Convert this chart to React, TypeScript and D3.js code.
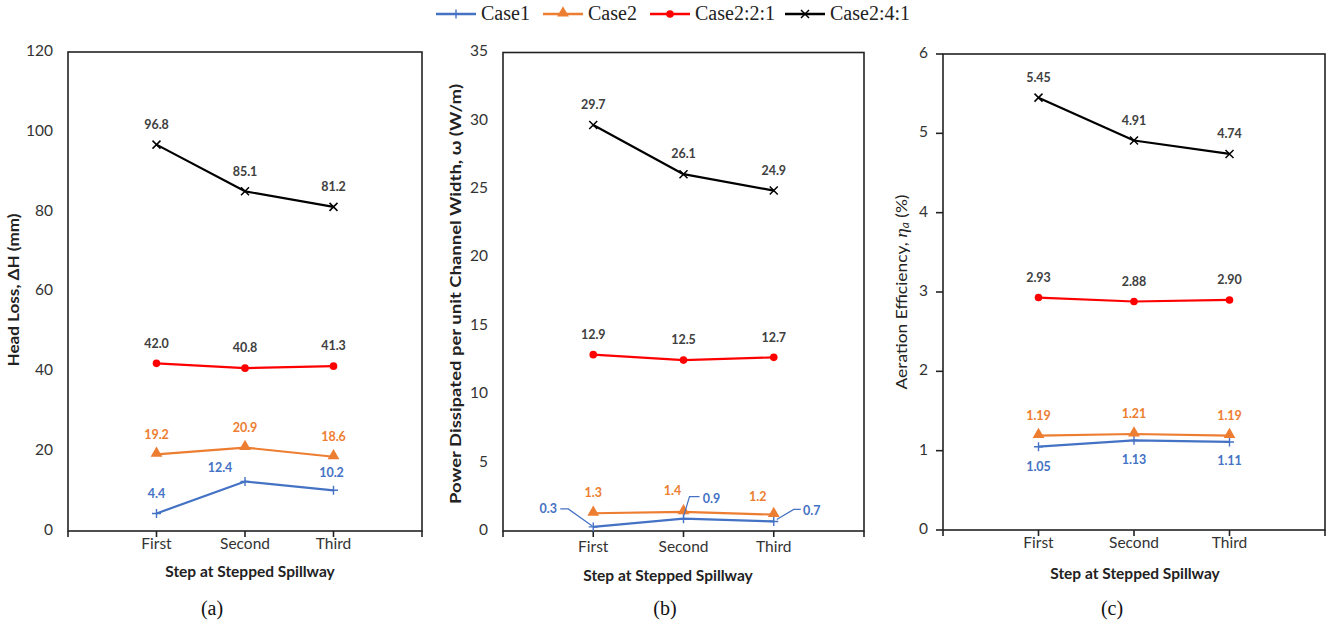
import React from "react";
import * as d3 from "d3";

// ---------- DATA ----------
const steps = ["First", "Second", "Third"];
const axisSlots = ["", "First", "Second", "Third", ""];
const seriesNames = ["Case1", "Case2", "Case2:2:1", "Case2:4:1"];

const headLossCase1 = [4.4, 12.4, 10.2];
const headLossCase2 = [19.2, 20.9, 18.6];
const headLossCase221 = [42.0, 40.8, 41.3];
const headLossCase241 = [96.8, 85.1, 81.2];

const powerCase1 = [0.3, 0.9, 0.7];
const powerCase2 = [1.3, 1.4, 1.2];
const powerCase221 = [12.9, 12.5, 12.7];
const powerCase241 = [29.7, 26.1, 24.9];

const aerationCase1 = [1.05, 1.13, 1.11];
const aerationCase2 = [1.19, 1.21, 1.19];
const aerationCase221 = [2.93, 2.88, 2.9];
const aerationCase241 = [5.45, 4.91, 4.74];

const headLossTicks = [0, 20, 40, 60, 80, 100, 120];
const powerTicks = [0, 5, 10, 15, 20, 25, 30, 35];
const aerationTicks = [0, 1, 2, 3, 4, 5, 6];

// ---------- STYLE ----------
const COLORS = ["#4472C4", "#ED7D31", "#FF0000", "#000000"];
const LABEL_COLORS = ["#4472C4", "#ED7D31", "#404040", "#404040"];
const SANS = "Lato, 'Open Sans', sans-serif";
const SERIF = "'Liberation Serif', 'Times New Roman', serif";

type Panel = {
  series: number[][];
  ticks: number[];
  digits: number;
  left: number;
  right: number;
  top: number;
  bottom: number;
  yTitle: React.ReactNode;
  yTitleX: number;
  yTitleY: number;
  yTitleLen: number;
  yTitleBold: boolean;
  yTickMarks: boolean;
  tickLabelX: number;
  xTitleX: number;
  xTitleY: number;
  xLabelY: number;
  panelLabel: string;
  panelLabelX: number;
  labelOffsets: number[][][];
  callouts?: { series: number; leader: number[][][] }[];
};

const above = [[0, -19], [0, -19], [0, -19]];

const panels: Panel[] = [
  {
    series: [headLossCase1, headLossCase2, headLossCase221, headLossCase241],
    ticks: headLossTicks,
    digits: 1,
    left: 68, right: 422, top: 52, bottom: 531,
    yTitle: "Head Loss, ΔH (mm)",
    yTitleX: 15, yTitleY: 290, yTitleLen: 153, yTitleBold: true, yTickMarks: false,
    tickLabelX: 53,
    xTitleX: 250, xTitleY: 573, xLabelY: 545,
    panelLabel: "(a)", panelLabelX: 212,
    labelOffsets: [[[0, -19], [-25, -13], [-2, -16]], above, above, above],
  },
  {
    series: [powerCase1, powerCase2, powerCase221, powerCase241],
    ticks: powerTicks,
    digits: 1,
    left: 503, right: 864, top: 52.5, bottom: 531,
    yTitle: "Power Dissipated per unit Channel Width, ω (W/m)",
    yTitleX: 457, yTitleY: 294, yTitleLen: 420, yTitleBold: true, yTickMarks: false,
    tickLabelX: 488,
    xTitleX: 668, xTitleY: 577, xLabelY: 548,
    panelLabel: "(b)", panelLabelX: 665,
    labelOffsets: [
      [[-45, -17], [28, -19], [38, -10]],
      [[0, -19], [-11, -20], [-16, -17]],
      above,
      above,
    ],
    callouts: [
      {
        series: 0,
        leader: [
          [[-33, -18], [-25, -18], [-1, -1]],
          [[16, -22], [6, -22], [0, -2]],
          [[27, -12], [20, -12], [3, -2]],
        ],
      },
    ],
  },
  {
    series: [aerationCase1, aerationCase2, aerationCase221, aerationCase241],
    ticks: aerationTicks,
    digits: 2,
    left: 943, right: 1325, top: 54, bottom: 530,
    yTitle: null,
    yTitleX: 903, yTitleY: 292, yTitleLen: 195, yTitleBold: false, yTickMarks: true,
    tickLabelX: 928,
    xTitleX: 1135, xTitleY: 575, xLabelY: 544,
    panelLabel: "(c)", panelLabelX: 1112,
    labelOffsets: [[[0, 21], [0, 20], [0, 20]], above, above, above],
  },
];

// ---------- MARKERS ----------
function Marker({ kind, x, y }: { kind: number; x: number; y: number }) {
  const c = COLORS[kind];
  if (kind === 0)
    return <path d={`M${x - 4.5},${y}H${x + 4.5}M${x},${y - 4.5}V${y + 4.5}`} stroke={c} strokeWidth={1.4} />;
  if (kind === 1)
    return (
      <path
        d={d3.symbol(d3.symbolTriangle, 60)() as string}
        transform={`translate(${x},${y - 1})`}
        fill={c}
      />
    );
  if (kind === 2) return <circle cx={x} cy={y} r={3.8} fill={c} />;
  return <path d={`M${x - 4},${y - 4}L${x + 4},${y + 4}M${x - 4},${y + 4}L${x + 4},${y - 4}`} stroke={c} strokeWidth={1.5} />;
}

function ChartPanel({ p }: { p: Panel }) {
  const x = d3.scalePoint<number>().domain(axisSlots.map((_, i) => i)).range([p.left, p.right]).padding(0);
  const y = d3.scaleLinear().domain([p.ticks[0], p.ticks[p.ticks.length - 1]]).range([p.bottom, p.top]);
  const line = d3
    .line<number>()
    .x((_, i) => x(i + 1) as number)
    .y((d) => y(d));
  return (
    <g>
      <rect x={p.left} y={p.top} width={p.right - p.left} height={p.bottom - p.top} fill="none" stroke="#222" strokeWidth={1.6} />
      {axisSlots.map((s, i) => (
        <g key={i}>
          <line x1={x(i)} x2={x(i)} y1={p.bottom} y2={p.bottom + 6} stroke="#222" strokeWidth={1.6} />
          {s && (
            <text x={x(i)} y={p.xLabelY} textAnchor="middle" dominantBaseline="middle" fontFamily={SANS} fontSize={15.5} fill="#333">
              {s}
            </text>
          )}
        </g>
      ))}
      {p.ticks.map((t) => (
        <g key={t}>
          {p.yTickMarks && <line x1={p.left - 7} x2={p.left} y1={y(t)} y2={y(t)} stroke="#222" strokeWidth={1.6} />}
          <text x={p.tickLabelX} y={y(t)} textAnchor="end" dominantBaseline="middle" fontFamily={SANS} fontSize={15.5} fill="#333">
            {t}
          </text>
        </g>
      ))}
      <text
        transform={`translate(${p.yTitleX},${p.yTitleY}) rotate(-90)`}
        textAnchor="middle"
        dominantBaseline="middle"
        fontFamily={SANS}
        fontSize={15.5}
        fontWeight={p.yTitleBold ? 700 : 400}
        fill="#222"
        textLength={p.yTitleLen}
        lengthAdjust="spacingAndGlyphs"
      >
        {p.yTitle ?? (
          <>
            Aeration Efficiency, <tspan fontStyle="italic" fontFamily={SERIF} fontSize={17}>η</tspan>
            <tspan fontSize={10.5} dy={3} fontStyle="italic">a</tspan>
            <tspan dy={-3}> (%)</tspan>
          </>
        )}
      </text>
      <text x={p.xTitleX} y={p.xTitleY} textAnchor="middle" dominantBaseline="middle" fontFamily={SANS} fontSize={15.5} fontWeight={700} fill="#222">
        Step at Stepped Spillway
      </text>
      <text x={p.panelLabelX} y={610} textAnchor="middle" dominantBaseline="middle" fontFamily={SERIF} fontSize={20} fill="#111">
        {p.panelLabel}
      </text>
      {p.series.map((vals, si) => (
        <g key={si}>
          <path d={line(vals) as string} fill="none" stroke={COLORS[si]} strokeWidth={2.2} strokeLinejoin="round" />
          {vals.map((v, i) => (
            <Marker key={i} kind={si} x={x(i + 1) as number} y={y(v)} />
          ))}
        </g>
      ))}
      {(p.callouts || []).map((c) =>
        p.series[c.series].map((v, i) => {
          const px = x(i + 1) as number;
          const py = y(v);
          const pts = c.leader[i].map((q) => [px + q[0], py + q[1]] as [number, number]);
          return <path key={`c${i}`} d={d3.line()(pts) as string} fill="none" stroke={COLORS[c.series]} strokeWidth={1.2} />;
        })
      )}
      {p.series.map((vals, si) =>
        vals.map((v, i) => {
          const [dx, dy] = p.labelOffsets[si][i];
          return (
            <text
              key={`${si}-${i}`}
              x={(x(i + 1) as number) + dx}
              y={y(v) + dy}
              textAnchor="middle"
              dominantBaseline="middle"
              fontFamily={SANS}
              fontSize={12.5}
              fontWeight={700}
              fill={LABEL_COLORS[si]}
            >
              {v.toFixed(p.digits)}
            </text>
          );
        })
      )}
    </g>
  );
}

const legendLineX = [436, 543, 650, 785];

export default function App() {
  return (
    <svg width={1327} height={624} style={{ position: "absolute", left: 0, top: 0, background: "#fff" }}>
      <rect width={1327} height={624} fill="#fff" />
      {seriesNames.map((n, i) => {
        const lx = legendLineX[i];
        return (
          <g key={n}>
            <line x1={lx} x2={lx + 40} y1={14} y2={14} stroke={COLORS[i]} strokeWidth={2.4} />
            <Marker kind={i} x={lx + 20} y={14} />
            <text x={lx + 45} y={15} dominantBaseline="middle" fontFamily={SERIF} fontSize={20} fill="#222">
              {n}
            </text>
          </g>
        );
      })}
      {panels.map((p, i) => (
        <ChartPanel key={i} p={p} />
      ))}
    </svg>
  );
}
